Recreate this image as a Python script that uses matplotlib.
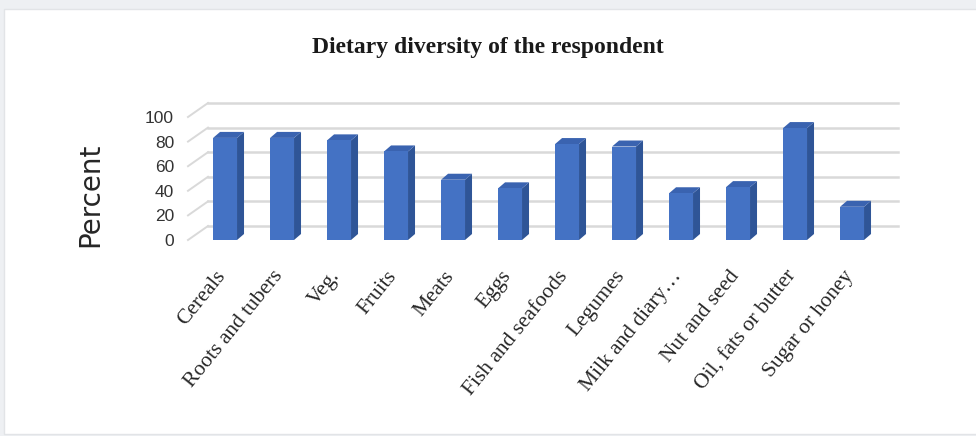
import matplotlib
matplotlib.use("Agg")
import matplotlib.pyplot as plt
from matplotlib.patches import Polygon, Rectangle

categories = ["Cereals", "Roots and tubers", "Veg.", "Fruits", "Meats", "Eggs",
              "Fish and seafoods", "Legumes", "Milk and diary\u2026", "Nut and seed",
              "Oil, fats or butter", "Sugar or honey"]
percent = [83, 83, 81, 72, 49, 42, 78, 76, 38, 43, 91, 27]
y_ticks = [0, 20, 40, 60, 80, 100]

W, H = 976, 436
fig = plt.figure(figsize=(W / 100, H / 100), dpi=100, facecolor="#eef0f3")
fig.patches.append(Rectangle((4 / W, 2 / H), 1, 425 / H, transform=fig.transFigure,
                             facecolor="white", edgecolor="#e2e4e7", lw=1, zorder=-5))

# axes layout in pixels: front plane 0 at y=240, 1.23 px per percent, 57 px per bar
px_x, px_y = 57.0, 1.23
xlo, xhi = -0.65, 11.455
ylo, yhi = 0, 115
ax = fig.add_axes([188 / W, (H - 240) / H, (xhi - xlo) * px_x / W, (yhi - ylo) * px_y / H])
ax.set_xlim(xlo, xhi)
ax.set_ylim(ylo, yhi)
ax.patch.set_alpha(0)
for s in ax.spines.values():
    s.set_visible(False)

# back wall gridlines + side-wall diagonals
gx, gy = 20 / px_x, 14 / px_y
for v in y_ticks:
    ax.plot([xlo + gx, xhi + gx], [v + gy, v + gy], color="#d9d9d9", lw=1.8, zorder=1, clip_on=False)
    ax.plot([xlo, xlo + gx], [v, v + gy], color="#d9d9d9", lw=1.4, zorder=1, clip_on=False)

# bars with a fake 3D extrusion
x = list(range(len(categories)))
bw = 0.42
dx, dy = 7 / px_x, 6 / px_y
ax.bar(x, percent, width=bw, color="#4472c4", zorder=4)
for i, h in zip(x, percent):
    x0, x1 = i - bw / 2, i + bw / 2
    ax.add_patch(Polygon([(x1, 0), (x1 + dx, dy), (x1 + dx, h + dy), (x1, h)],
                         closed=True, facecolor="#2f5597", edgecolor="none", zorder=3))
    ax.add_patch(Polygon([(x0, h), (x0 + dx, h + dy), (x1 + dx, h + dy), (x1, h)],
                         closed=True, facecolor="#3a63b0", edgecolor="none", zorder=3))

ax.set_yticks(y_ticks)
ax.set_yticklabels([str(v) for v in y_ticks], fontsize=12.5, family="Liberation Sans", color="#333333")
ax.tick_params(axis="y", length=0, pad=10)
ax.set_xticks([])

for i, name in zip(x, categories):
    ax.text(i - 0.17, -22, name, rotation=51, ha="right", va="top", rotation_mode="anchor",
            fontsize=15.5, family="Liberation Serif", color="#262626")

fig.text(488 / W, 1 - 47 / H, "Dietary diversity of the respondent", ha="center", va="center",
         fontsize=17, family="Liberation Serif", weight="bold", color="#1a1a1a")
fig.text(90 / W, 1 - 195 / H, "Percent", rotation=90, ha="center", va="center",
         fontsize=20, family="DejaVu Sans", color="#262626")

fig.savefig("out.png", dpi=100, facecolor=fig.get_facecolor())
